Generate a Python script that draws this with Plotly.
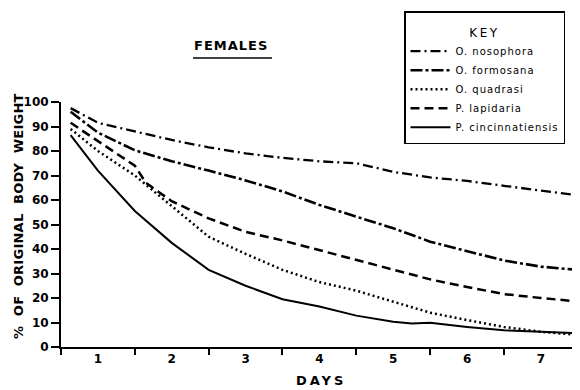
import plotly.graph_objects as go

# ---- data (days, % of original body weight) ----
names = ["O. nosophora", "O. formosana", "O. quadrasi", "P. lapidaria", "P. cincinnatiensis"]

x_nosophora = [0.63, 1.0, 1.5, 2.0, 2.5, 3.0, 3.5, 4.0, 4.5, 5.0, 5.5, 6.0, 6.5, 7.0, 7.53]
y_nosophora = [97.5, 91.5, 88.0, 84.5, 81.5, 79.0, 77.2, 75.8, 75.0, 71.5, 69.2, 67.8, 65.8, 64.0, 61.8]

x_formosana = [0.63, 1.0, 1.5, 2.0, 2.5, 3.0, 3.5, 4.0, 4.5, 5.0, 5.5, 6.0, 6.5, 7.0, 7.53]
y_formosana = [96.0, 87.5, 80.3, 75.8, 72.0, 68.0, 63.5, 58.0, 53.2, 48.5, 43.0, 39.0, 35.3, 32.8, 31.4]

x_quadrasi = [0.63, 1.0, 1.5, 2.0, 2.5, 3.0, 3.5, 4.0, 4.5, 5.0, 5.5, 6.0, 6.5, 7.0, 7.53]
y_quadrasi = [89.0, 80.0, 70.0, 57.5, 45.0, 38.0, 31.5, 26.5, 23.0, 18.5, 14.0, 11.0, 8.2, 6.2, 4.9]

x_lapidaria = [0.63, 1.0, 1.5, 1.65, 2.0, 2.5, 3.0, 3.5, 4.0, 4.5, 5.0, 5.5, 6.0, 6.5, 7.0, 7.53]
y_lapidaria = [91.5, 84.0, 74.0, 67.0, 59.5, 52.5, 47.0, 43.5, 39.5, 35.3, 31.5, 27.6, 24.5, 21.6, 20.0, 18.5]

x_cinc = [0.63, 1.0, 1.5, 2.0, 2.5, 3.0, 3.5, 4.0, 4.5, 5.0, 5.25, 5.5, 6.0, 6.5, 7.0, 7.53]
y_cinc = [86.5, 72.0, 55.5, 42.5, 31.5, 25.0, 19.5, 16.5, 12.8, 10.3, 9.6, 9.9, 8.2, 6.8, 6.2, 5.6]

day_ticks = [1, 2, 3, 4, 5, 6, 7]
day_labels = ["1", "2", "3", "4", "5", "6", "7"]
y_ticks = [0, 10, 20, 30, 40, 50, 60, 70, 80, 90, 100]

series_x = [x_nosophora, x_formosana, x_quadrasi, x_lapidaria, x_cinc]
series_y = [y_nosophora, y_formosana, y_quadrasi, y_lapidaria, y_cinc]
dashes = ["10px,4px,2px,4px", "12px,3px,3px,3px", "2px,3px", "9px,5px", "solid"]
widths = [2.3, 2.6, 2.5, 2.5, 2.0]

FONT = "DejaVu Sans"

# plot area (in the photographed page): x 61..580, y 102..347; page body offsets figure by 8px
PL, PR, PT, PB = 61, 580, 102, 347
def px(x):
    return (x - PL) / (PR - PL)
def py(y):
    return (PB - y) / (PB - PT)

fig = go.Figure()
for nm, xs, ys, d, w in zip(names, series_x, series_y, dashes, widths):
    fig.add_trace(go.Scatter(
        x=xs, y=ys, mode="lines",
        name="<span style='letter-spacing:1px'>" + nm + "</span>",
        line=dict(color="black", width=w, dash=d)))

fig.update_layout(
    width=572, height=382,
    margin=dict(l=PL - 8, r=0, t=PT - 8, b=382 - (PB - 8)),
    paper_bgcolor="white", plot_bgcolor="white",
    font=dict(family=FONT, color="black"),
    showlegend=True,
    legend=dict(
        x=px(404), y=py(11), xanchor="left", yanchor="top",
        bordercolor="black", borderwidth=1.5, bgcolor="white",
        font=dict(family=FONT, size=10, color="black"),
        title=dict(text="&nbsp;<br><span style='font-size:12px;letter-spacing:2.5px'>KEY</span>",
                   side="top center", font=dict(family=FONT, size=9.3)),
        itemwidth=40, tracegroupgap=0,
    ),
    xaxis=dict(
        range=[0.5, 7.53], tickmode="array", tickvals=day_ticks, ticktext=day_labels,
        ticks="", showgrid=False, zeroline=False,
        showline=True, linecolor="black", linewidth=2,
        tickfont=dict(family=FONT, size=12, weight="bold"),
        minor=dict(tickmode="linear", tick0=0.5, dtick=1, ticks="outside",
                   ticklen=6, tickwidth=1.5, tickcolor="black", showgrid=False),
    ),
    yaxis=dict(
        range=[0, 100], tickmode="array", tickvals=y_ticks,
        ticks="outside", ticklen=8, tickwidth=1.5, tickcolor="black",
        showgrid=False, zeroline=False,
        showline=True, linecolor="black", linewidth=2,
        tickfont=dict(family=FONT, size=12, weight="bold"),
    ),
)

fig.add_annotation(text="<span style='letter-spacing:1px'>FEMALES</span>", xref="paper", yref="paper",
                   x=px(231), y=py(46), xanchor="center", yanchor="middle", showarrow=False,
                   font=dict(family=FONT, size=13, weight="bold"))
fig.add_shape(type="line", xref="paper", yref="paper",
              x0=px(193), x1=px(272), y0=py(58), y1=py(58),
              line=dict(color="black", width=1.5))
fig.add_annotation(text="<span style='letter-spacing:0.25px'>%  OF  ORIGINAL  BODY  WEIGHT</span>".replace("  ", "\u00a0\u00a0"),
                   xref="paper", yref="paper", textangle=-90,
                   x=px(18), y=py(216), xanchor="center", yanchor="middle", showarrow=False,
                   font=dict(family=FONT, size=13, weight="bold"))
fig.add_annotation(text="<span style='letter-spacing:3px'>DAYS</span>", xref="paper", yref="paper",
                   x=px(321), y=py(380), xanchor="center", yanchor="middle", showarrow=False,
                   font=dict(family=FONT, size=13, weight="bold"))

fig.write_html("out.html")
